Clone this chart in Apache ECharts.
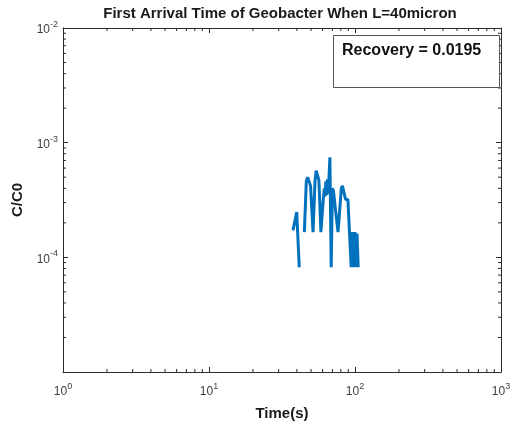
<!DOCTYPE html>
<html>
<head>
<meta charset="utf-8">
<title>First Arrival Time of Geobacter</title>
<script src="https://cdn.jsdelivr.net/npm/echarts@6/dist/echarts.min.js"></script>
<style>
  html, body { margin: 0; padding: 0; background: #ffffff; }
  #chart { width: 516px; height: 426px; }
</style>
</head>
<body>
<div id="chart"></div>
<script>
// Breakthrough curve: arrival time (s) and relative concentration C/C0.
// '-' marks time steps with zero concentration (the log plot breaks there).
const timeS = [
  37.6, 39.9, 41.5, 43.0,
  45.0, 46.4, 47.4, 48.6, 49.6, 51.6,
  53.2, 54.2, 55.4, 56.6, 58.4,
  60.5, 61.6, 62.4, 63.2, 64.0, 64.8, 65.6, 66.4, 67.3, 68.7,
  70.0, 71.2, 73.5, 76.5, 78.6,
  80.6, 82.0, 84.6, 86.2, 89.4, 90.6, 93.4,
  94.2, 95.0, 95.8, 96.6, 97.4, 98.2, 99.0, 99.8, 100.6, 101.6, 102.4, 103.2, 104.2, 105.2,
  130.0, 159.5, 161.0
];
const concRatio = [
  1.72e-4, 2.48e-4, 8.2e-5, '-',
  1.66e-4, 4.6e-4, 5.0e-4, 4.9e-4, 4.2e-4, 1.66e-4,
  4.6e-4, 5.7e-4, 5.5e-4, 4.7e-4, 1.66e-4,
  3.1e-4, 4.0e-4, 3.4e-4, 4.6e-4, 3.5e-4, 4.8e-4, 3.6e-4, 5.0e-4, 7.45e-4, 8.2e-5,
  4.0e-4, 3.8e-4, 2.6e-4, 1.66e-4, 1.66e-4,
  4.0e-4, 4.2e-4, 4.1e-4, 3.2e-4, 3.2e-4, 2.25e-4, 2.25e-4,
  8.2e-5, 1.66e-4, 8.2e-5, 1.66e-4, 8.2e-5, 1.66e-4, 8.2e-5, 1.66e-4, 8.2e-5, 1.61e-4, 8.2e-5, 1.61e-4, 1.61e-4, 8.2e-5,
  '-', 8.2e-5, 8.2e-5
];
const recovery = 0.0195;

// Axis ranges and decade starts for the log minor ticks (2..9 x 10^k)
const xRange = [1, 1000];
const yRange = [1e-5, 1e-2];
const xDecades = [1, 10, 100];
const yDecades = [1e-5, 1e-4, 1e-3];
const minorSteps = [2, 3, 4, 5, 6, 7, 8, 9];

const AXIS_COLOR = '#2b2b2b';
const LABEL_COLOR = '#404040';
const FONT = '"Liberation Sans", Arial, Helvetica, sans-serif';

const lineData = timeS.map((t, i) => [t, concRatio[i]]);
const xMinor = [];
xDecades.forEach(d => minorSteps.forEach(m => xMinor.push([d * m, 1e-4])));
const yMinor = [];
yDecades.forEach(d => minorSteps.forEach(m => yMinor.push([10, d * m])));

function powerLabel(value) {
  const exp = Math.round(Math.log10(value));
  return '{b|10}{s|' + exp + '}';
}
const powerRich = {
  b: { fontSize: 12, fontFamily: FONT, color: LABEL_COLOR, verticalAlign: 'bottom', lineHeight: 14 },
  s: { fontSize: 9, fontFamily: FONT, color: LABEL_COLOR, verticalAlign: 'bottom', padding: [0, 0, 7, 0] }
};

function minorTicks(dir) {
  const L = 3;
  return function (params, api) {
    const v = api.value(dir === 'x' ? 0 : 1);
    const st = { stroke: AXIS_COLOR, lineWidth: 1 };
    if (dir === 'x') {
      const lo = api.coord([v, yRange[0]]);
      const hi = api.coord([v, yRange[1]]);
      return { type: 'group', children: [
        { type: 'line', shape: { x1: lo[0], y1: lo[1], x2: lo[0], y2: lo[1] - L }, style: st },
        { type: 'line', shape: { x1: hi[0], y1: hi[1], x2: hi[0], y2: hi[1] + L }, style: st }
      ] };
    }
    const lo = api.coord([xRange[0], v]);
    const hi = api.coord([xRange[1], v]);
    return { type: 'group', children: [
      { type: 'line', shape: { x1: lo[0], y1: lo[1], x2: lo[0] + L, y2: lo[1] }, style: st },
      { type: 'line', shape: { x1: hi[0], y1: hi[1], x2: hi[0] - L, y2: hi[1] }, style: st }
    ] };
  };
}

const axisCommon = {
  type: 'log',
  logBase: 10,
  axisLine: { show: true, lineStyle: { color: AXIS_COLOR, width: 1 } },
  axisTick: { show: true, inside: true, length: 5, lineStyle: { color: AXIS_COLOR } },
  splitLine: { show: false },
  minorTick: { show: false },
};

const chart = echarts.init(document.getElementById('chart'), null, { renderer: 'canvas' });
chart.setOption({
  animation: false,
  backgroundColor: '#ffffff',
  grid: { left: 63, right: 15, top: 28, bottom: 54, containLabel: false },
  xAxis: [
    Object.assign({}, axisCommon, {
      position: 'bottom', min: xRange[0], max: xRange[1],
      name: 'Time(s)', nameLocation: 'middle', nameGap: 34,
      nameTextStyle: { fontFamily: FONT, fontWeight: 'bold', fontSize: 15, color: '#1a1a1a' },
      axisLabel: { formatter: powerLabel, rich: powerRich, margin: 10 }
    }),
    Object.assign({}, axisCommon, {
      position: 'top', min: xRange[0], max: xRange[1],
      axisLabel: { show: false }
    })
  ],
  yAxis: [
    Object.assign({}, axisCommon, {
      position: 'left', min: yRange[0], max: yRange[1],
      name: 'C/C0', nameLocation: 'middle', nameGap: 35,
      nameTextStyle: { fontFamily: FONT, fontWeight: 'bold', fontSize: 15, color: '#1a1a1a' },
      axisLabel: {
        formatter: v => (Math.round(Math.log10(v)) === -5 ? '' : powerLabel(v)),
        rich: powerRich, margin: 5
      }
    }),
    Object.assign({}, axisCommon, {
      position: 'right', min: yRange[0], max: yRange[1],
      axisLabel: { show: false }
    })
  ],
  graphic: [
    {
      type: 'text', x: 280, y: 14, silent: true,
      style: {
        text: 'First Arrival Time of Geobacter When L=40micron',
        textAlign: 'center', textVerticalAlign: 'middle',
        font: 'bold 15px ' + FONT, fill: '#1a1a1a'
      }
    },
    {
      type: 'rect', left: 333, top: 35, silent: true, z: 10,
      shape: { width: 166, height: 52 },
      style: { fill: '#ffffff', stroke: '#555555', lineWidth: 1 }
    },
    {
      type: 'text', x: 342, y: 51, silent: true, z: 11,
      style: {
        text: 'Recovery = ' + recovery.toFixed(4),
        textAlign: 'left', textVerticalAlign: 'middle',
        font: 'bold 16px ' + FONT, fill: '#111111'
      }
    }
  ],
  series: [
    {
      type: 'line',
      data: lineData,
      xAxisIndex: 0, yAxisIndex: 0,
      showSymbol: false,
      connectNulls: false,
      lineStyle: { color: '#0072BD', width: 3 },
      itemStyle: { color: '#0072BD' },
      z: 5
    },
    {
      type: 'custom', data: xMinor, xAxisIndex: 0, yAxisIndex: 0,
      renderItem: minorTicks('x'), silent: true, clip: false, z: 3
    },
    {
      type: 'custom', data: yMinor, xAxisIndex: 0, yAxisIndex: 0,
      renderItem: minorTicks('y'), silent: true, clip: false, z: 3
    }
  ]
});
</script>
</body>
</html>
